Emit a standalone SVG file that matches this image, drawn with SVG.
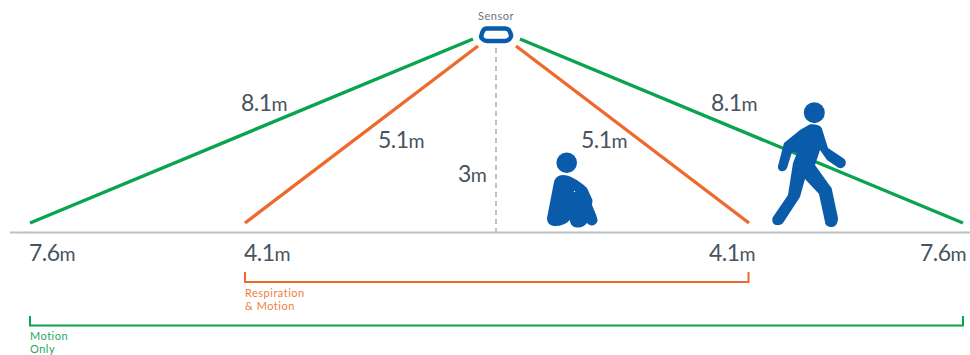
<svg xmlns="http://www.w3.org/2000/svg" width="970" height="355" viewBox="0 0 970 355">
<style>
text{font-family:Lato,"Open Sans","Liberation Sans",sans-serif}
.d{font-size:23px;fill:#48535f;letter-spacing:-.5px}
.u{font-size:19.500px}
.s{font-size:11px;letter-spacing:.5px}
.g{fill:none;stroke:#0aa350;stroke-width:3.4}
.o{fill:none;stroke:#ee6a2c;stroke-width:3.4}
.gb{fill:none;stroke:#0aa350;stroke-width:2}
.ob{fill:none;stroke:#ee6a2c;stroke-width:2}
.p{fill:#0a5cab}
</style>
<g id="connectors">
<path d="M10 232.500H970" fill="none" stroke="#bcc1c7" stroke-width="2"/>
<path d="M496 48V232" fill="none" stroke="#bcc1c7" stroke-width="2" stroke-dasharray="5 4"/>
<path class="g" d="M473 39L30 223"/>
<path class="g" d="M520 39L963 223"/>
<path class="o" d="M478 46L245 223"/>
<path class="o" d="M516 46L749 223"/>
<path class="ob" d="M245 272V282H748.500V272"/>
<path class="gb" d="M30 316V325.500H963V316"/>
</g>
<g id="sensor">
<text x="496" y="20" text-anchor="middle" class="s" font-weight="400" fill="#6a747e">Sensor</text>
<path d="M487 28.500H505Q509 28.500 510 32L511 35Q511.500 37 509.500 39Q507.500 41 505 41H487Q484.500 41 482.500 39Q480.500 37 481.500 35L482.500 32Q483.500 28.500 487 28.500Z" fill="none" stroke="#0a5cab" stroke-width="4.500"/>
</g>
<g id="sitting-person">
<circle class="p" cx="566.700" cy="162.700" r="10.300"/>
<path class="p" d="M563 175C558 175 555 178 554 182L547 218C547 224 551 226 555 226C561 226 566 224 570 220C570 224 572 227 577 227.500C581 228 585 226 587 223C590 227 596 226 597.500 221C598 218 594 210 592 205L592.500 200L587 188C583 184 577 180 573 178C570 176 566 175 563 175Z"/>
<circle cx="574.500" cy="191.500" r=".7" fill="#fff"/>
</g>
<g id="walking-person">
<circle class="p" cx="814.300" cy="112.700" r="10.500"/>
<path class="p" d="M810 124.300C816 124 820 125 821.700 128L828 148L843 158C847 160 847 166 842 168C840 168.500 839 168 838 167.500L827 160L820 150L815 165L830 186C831 187 832 188 832 190L838 218C838 224 835 227 832 227C828 227 825 225 825 222L819 194L805 179L800 197L783 223C780 226 775 226 773 223C772 221 772 218 773 217L788 195L793 163L797 153L792 152L787 168C785 172 781 172 779 170C778 169 778 167 778 166L784 143L800 130Z"/>
</g>
<g id="labels">
<text class="d" x="241" y="111">8.1<tspan class="u">m</tspan></text>
<text class="d" x="711" y="111">8.1<tspan class="u">m</tspan></text>
<text class="d" x="378" y="148">5.1<tspan class="u">m</tspan></text>
<text class="d" x="581" y="148">5.1<tspan class="u">m</tspan></text>
<text class="d" x="458" y="182">3<tspan class="u">m</tspan></text>
<text class="d" x="29" y="261">7.6<tspan class="u">m</tspan></text>
<text class="d" x="244" y="261">4.1<tspan class="u">m</tspan></text>
<text class="d" x="709" y="261">4.1<tspan class="u">m</tspan></text>
<text class="d" x="920" y="261">7.6<tspan class="u">m</tspan></text>
<text x="245" y="297" class="s" fill="#ee7d45">Respiration</text>
<text x="245" y="310" class="s" fill="#ee7d45">&amp; Motion</text>
<text x="30" y="340" class="s" fill="#25a864">Motion</text>
<text x="30" y="353" class="s" fill="#25a864">Only</text>
</g>
</svg>
